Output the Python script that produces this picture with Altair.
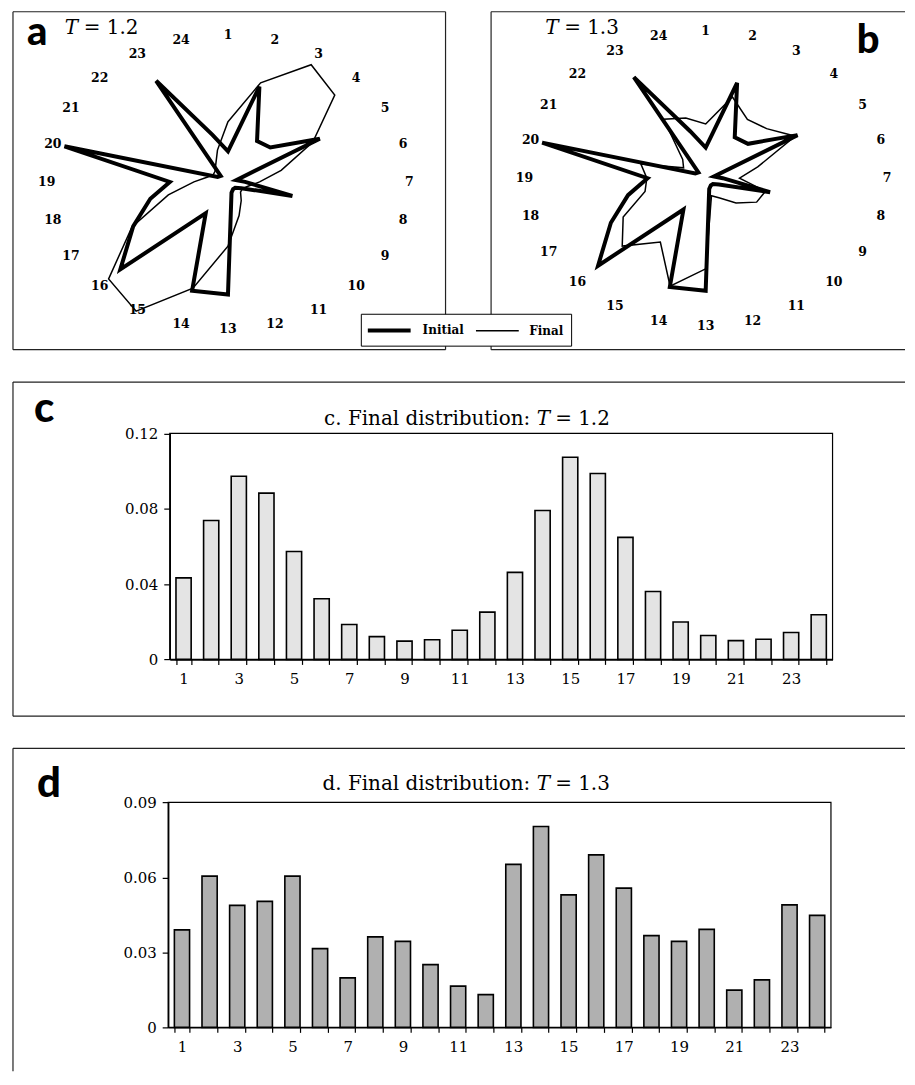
import altair as alt
import pandas as pd

# ---------------- data ----------------
directions = list(range(1, 25))
series_names = ["Initial", "Final"]

initial = [0.022, 0.071, 0.034, 0.035, 0.062, 0.005, 0.010, 0.039, 0.009, 0.006, 0.006, 0.008,
           0.081, 0.081, 0.026, 0.089, 0.064, 0.047, 0.034, 0.099, 0.007, 0.006, 0.084, 0.035]
final_t12 = [0.0433, 0.0738, 0.0973, 0.0883, 0.0573, 0.0322, 0.0185, 0.0121, 0.0097, 0.0104, 0.0155, 0.0251,
             0.0462, 0.0791, 0.1074, 0.0987, 0.0648, 0.0361, 0.0199, 0.0127, 0.0100, 0.0107, 0.0143, 0.0237]
final_t13 = [0.0390, 0.0605, 0.0488, 0.0504, 0.0605, 0.0315, 0.0198, 0.0362, 0.0344, 0.0251, 0.0165, 0.0131,
             0.0652, 0.0804, 0.0530, 0.0690, 0.0557, 0.0367, 0.0344, 0.0392, 0.0149, 0.0190, 0.0490, 0.0448]
c_ticks = [0, 0.04, 0.08, 0.12]
d_ticks = [0, 0.03, 0.06, 0.09]
label_radius = 0.106

SERIF = "DejaVu Serif"
BADGE_FONT = "Lato"
FRAME = "#222222"

one_row = pd.DataFrame({"z": [0]})


def rules(segments):
    out = []
    for (x1, y1, x2, y2) in segments:
        enc = dict(x=alt.value(x1), y=alt.value(y1))
        if x2 != x1:
            enc["x2"] = alt.value(x2)
        if y2 != y1:
            enc["y2"] = alt.value(y2)
        out.append(alt.Chart(one_row).mark_rule(color=FRAME, strokeWidth=1.2).encode(**enc))
    return out


def text_piece(txt, x, y, size, style="normal", weight="normal", font=SERIF, align="left"):
    return alt.Chart(pd.DataFrame({"t": [txt]})).mark_text(
        font=font, fontSize=size, fontStyle=style, fontWeight=weight, align=align,
        baseline="alphabetic", color="black"
    ).encode(x=alt.value(x), y=alt.value(y), text="t:N")


legend_def = alt.Legend(
    orient="none", legendX=349, legendY=303, direction="horizontal", title=None,
    symbolType="M-3,0H3", symbolSize=205, symbolOffset=12, symbolStrokeColor="black",
    symbolFillColor="transparent", labelOffset=24, columnPadding=8, padding=7,
    strokeColor="black", fillColor="white", labelFont=SERIF, labelFontWeight="bold",
    labelFontSize=12, labelColor="black",
)


def radar(final_vals, width, height, xdom, ydom, tval, badge, badge_xy, t_xy, frame_segments):
    df = pd.DataFrame({
        "k": directions * 2,
        "value": initial + final_vals,
        "series": ["Initial"] * 24 + ["Final"] * 24,
    })
    xs = alt.Scale(domain=xdom, nice=False, zero=False)
    ys = alt.Scale(domain=ydom, nice=False, zero=False)
    lines = alt.Chart(df).transform_calculate(
        ang="(datum.k - 1) * PI / 12"
    ).transform_calculate(
        px="datum.value * sin(datum.ang)",
        py="datum.value * cos(datum.ang)",
    ).mark_line(interpolate="linear-closed", color="black").encode(
        x=alt.X("px:Q", scale=xs, axis=None),
        y=alt.Y("py:Q", scale=ys, axis=None),
        strokeWidth=alt.StrokeWidth("series:N",
                                    scale=alt.Scale(domain=series_names, range=[4, 1.5]),
                                    legend=legend_def),
        order=alt.Order("k:Q"),
    )
    lab = pd.DataFrame({"k": directions, "lab": [str(k) for k in directions]})
    labels = alt.Chart(lab).transform_calculate(
        ang="(datum.k - 1) * PI / 12"
    ).transform_calculate(
        px=f"{label_radius} * sin(datum.ang)",
        py=f"{label_radius} * cos(datum.ang)",
    ).mark_text(font=SERIF, fontWeight="bold", fontSize=12.5, color="black").encode(
        x=alt.X("px:Q", scale=xs, axis=None),
        y=alt.Y("py:Q", scale=ys, axis=None),
        text="lab:N",
    )
    layers = rules(frame_segments) + [
        lines, labels,
        text_piece(badge, badge_xy[0], badge_xy[1], 40, weight=900, font=BADGE_FONT),
        text_piece("T", t_xy[0], t_xy[1], 20, style="italic"),
        text_piece(f"= {tval}", t_xy[0] + 19, t_xy[1], 20),
    ]
    return alt.layer(*layers).properties(width=width, height=height)


def bars(vals, ticks, fill, prefix, tval, badge, badge_xy, title_xy, plot, frame_w, frame_h, bottom):
    px0, py0, px1, py1 = plot  # plot rectangle inside the frame
    df = pd.DataFrame({"k": directions, "value": vals})
    axis_common = dict(labelFont=SERIF, labelFontSize=15, labelColor="black",
                       domainColor="black", domainWidth=1.5, tickColor="black", tickWidth=1.2)
    b = alt.Chart(df).mark_bar(fill=fill, stroke="black", strokeWidth=1.6).encode(
        x=alt.X("k:O",
                scale=alt.Scale(range=[px0, px1], paddingInner=0.45, paddingOuter=0.225),
                axis=alt.Axis(title=None, labelAngle=0, tickBand="extent",
                              labelExpr="datum.value % 2 == 1 ? datum.label : ''",
                              tickSize=5, labelPadding=7, offset=py1 - frame_h, **axis_common)),
        y=alt.Y("value:Q",
                scale=alt.Scale(domain=[ticks[0], ticks[-1]], range=[py1, py0], nice=False),
                axis=alt.Axis(title=None, values=ticks, grid=False,
                              labelExpr="datum.value == 0 ? '0' : format(datum.value, '.2f')",
                              tickSize=6, labelPadding=6, offset=-px0, **axis_common)),
    )
    box = alt.Chart(one_row).mark_rect(fillOpacity=0, stroke="black", strokeWidth=1.2).encode(
        x=alt.value(px0), x2=alt.value(px1), y=alt.value(py0), y2=alt.value(py1))
    segs = [(0, 0, frame_w, 0), (0, 0, 0, frame_h)]
    if bottom:
        segs.append((0, frame_h, frame_w, frame_h))
    tx, ty = title_xy
    layers = rules(segs) + [
        box, b,
        text_piece(badge, badge_xy[0], badge_xy[1], 42, weight=900, font=BADGE_FONT),
        text_piece(f"{prefix}. Final distribution:", tx, ty, 20, align="right"),
        text_piece("T", tx + 6.4, ty, 20, style="italic"),
        text_piece(f"= {tval}", tx + 25, ty, 20),
    ]
    return alt.layer(*layers).properties(width=frame_w, height=frame_h)


# ---------------- panels ----------------
a_w, a_h = 434, 339
panel_a = radar(final_t12, a_w, a_h,
                [-215.7 / 1716, (a_w - 215.7) / 1716],
                [-(a_h - 170.7) / 1395, 170.7 / 1395],
                "1.2", "a", (14, 33), (52, 22),
                [(0, 0, a_w, 0), (0, 0, 0, a_h), (a_w, 0, a_w, a_h), (0, a_h, a_w, a_h)])

b_w, b_h = 415.3, 339
panel_b = radar(final_t13, b_w, b_h,
                [-215.3 / 1716, (b_w - 215.3) / 1716],
                [-(b_h - 167) / 1395, 167 / 1395],
                "1.3", "b", (367, 41), (54.3, 22),
                [(0, 0, b_w, 0), (0, 0, 0, b_h), (0, b_h, b_w, b_h)])

top = alt.hconcat(panel_a, panel_b, spacing=45.7, bounds="flush")

panel_c = bars(final_t12, c_ticks, "#e4e4e4", "c", "1.2", "c", (21, 40), (519, 43.3),
               (157.3, 51.6, 822.3, 278.3), 895, 335.3, True)
panel_d = bars(final_t13, d_ticks, "#b0b0b0", "d", "1.3", "d", (24, 49), (519, 42),
               (155.7, 54.3, 820.7, 280), 895, 324, False)

chart = alt.concat(top, panel_c, panel_d, columns=1, spacing=28.5, align="none", bounds="full").properties(
    padding={"left": 3, "top": 0, "right": 0, "bottom": 0}
).configure(background="white").configure_view(stroke="transparent")

chart.save("out.html", embed_options={"renderer": "svg", "actions": False})
